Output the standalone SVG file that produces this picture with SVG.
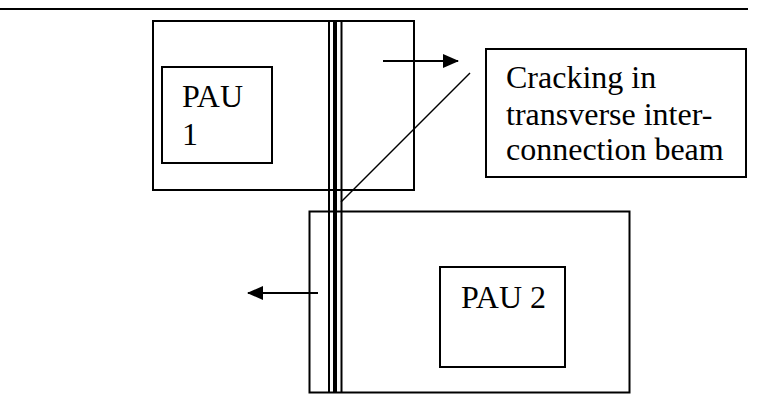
<svg xmlns="http://www.w3.org/2000/svg" width="783" height="408" viewBox="0 0 783 408">
<style>
.box{fill:none;stroke:#000;stroke-width:2}
.ln{stroke:#000;fill:none}
.t{font-family:"Liberation Serif","Times New Roman",serif;font-size:32px;fill:#000}
</style>
<defs>
<marker id="ah" markerWidth="16" markerHeight="14" refX="15" refY="7" orient="auto" markerUnits="userSpaceOnUse">
<path d="M0,0 L16,7 L0,14 Z" fill="#000"/>
</marker>
</defs>
<rect width="783" height="408" fill="#fff"/>
<line x1="0" y1="9" x2="748" y2="9" class="ln" stroke-width="2"/>
<g id="block1">
<rect x="153" y="21" width="261" height="169" class="box"/>
</g>
<g id="pau1">
<rect x="162" y="67" width="110" height="96" class="box"/>
<text class="t" x="182" y="107">PAU</text>
<text class="t" x="182" y="145">1</text>
</g>
<g id="block2">
<rect x="309.5" y="211.5" width="320" height="181" class="box"/>
</g>
<g id="pau2">
<rect x="440" y="267" width="125" height="100" class="box"/>
<text class="t" x="461" y="308">PAU 2</text>
</g>
<g id="beam">
<line x1="329" y1="20" x2="329" y2="393" class="ln" stroke-width="2"/>
<line x1="335" y1="20" x2="335" y2="393" class="ln" stroke-width="4"/>
<line x1="341.5" y1="20" x2="341.5" y2="393" class="ln" stroke-width="2"/>
</g>
<g id="callout">
<rect x="486" y="49" width="260" height="128" class="box"/>
<text class="t" x="506" y="88">Cracking in</text>
<text class="t" x="506" y="125">transverse inter-</text>
<text class="t" x="506" y="160">connection beam</text>
</g>
<g id="connectors">
<line x1="383" y1="61" x2="458" y2="61" class="ln" stroke-width="2" marker-end="url(#ah)"/>
<line x1="318" y1="293" x2="248" y2="293" class="ln" stroke-width="2" marker-end="url(#ah)"/>
<line x1="341" y1="202" x2="470" y2="73" class="ln" stroke-width="1.5"/>
</g>
</svg>
